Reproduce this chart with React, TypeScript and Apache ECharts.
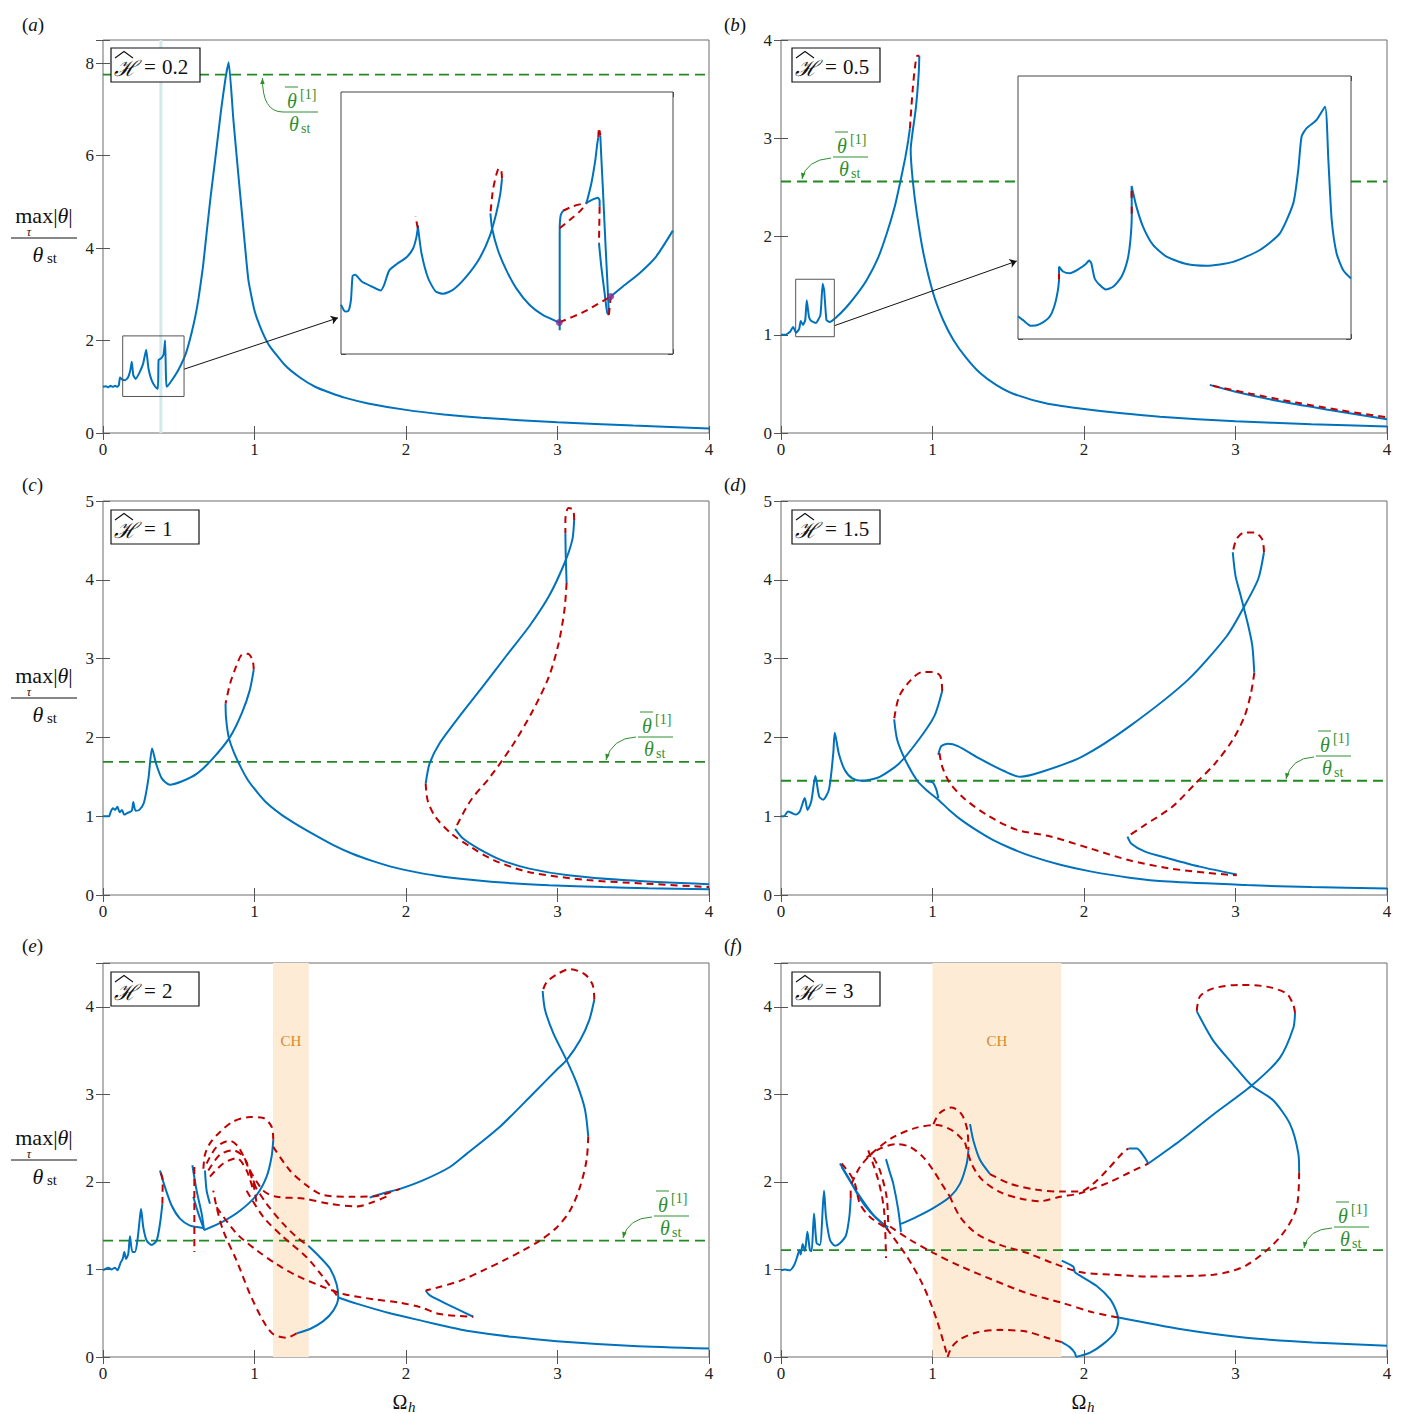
import React, { useEffect, useRef } from 'react';
import * as echarts from 'echarts';

type P = [number, number];

// ---------------- panel meta ----------------
const panelH = ['0.2', '0.5', '1', '1.5', '2', '3'];
const panelLetters = ['a', 'b', 'c', 'd', 'e', 'f'];
const yMaxes = [8.5, 4, 5, 5, 4.5, 4.5];
const ySteps = [2, 1, 1, 1, 1, 1];
const xMax = 4;
const greenLevels = [7.75, 2.56, 1.69, 1.45, 1.33, 1.22];

// ---------------- panel (a) ----------------
const aMain: P[] = [[0,1.0],[0.02,1.01],[0.035,0.99],[0.05,1.02],[0.065,1.0],[0.08,1.02],[0.095,1.0],[0.105,1.04],[0.112,1.2],[0.125,1.16],[0.145,1.14],[0.165,1.2],[0.18,1.35],[0.19,1.54],[0.2,1.25],[0.215,1.17],[0.24,1.3],[0.265,1.5],[0.285,1.8],[0.3,1.4],[0.32,1.15],[0.345,1.0],[0.362,0.95],[0.365,1.3],[0.367,1.58],[0.385,1.62],[0.4,1.7],[0.41,2.0],[0.415,1.3],[0.42,1.0],[0.45,1.12],[0.5,1.38],[0.55,1.75],[0.6,2.38],[0.63,2.9],[0.66,3.6],[0.684,4.33],[0.71,5.1],[0.74,5.9],[0.78,7.0],[0.81,7.7],[0.83,8.02],[0.86,6.8],[0.893,5.6],[0.93,4.3],[0.96,3.3],[1.0,2.65],[1.05,2.2],[1.1,1.88],[1.2,1.47],[1.3,1.2],[1.4,1.0],[1.5,0.87],[1.6,0.76],[1.75,0.64],[2.0,0.5],[2.25,0.4],[2.5,0.33],[3.0,0.23],[3.5,0.16],[4.0,0.1]];
const aZoomBox: P[] = [[0.13,0.79],[0.535,0.79],[0.535,2.1],[0.13,2.1],[0.13,0.79]];
const aArrow: P[] = [[0.535,1.38],[1.551,2.49]];
const aBand: P = [0.372, 0.392];

// inset (a)
const aInB1: P[] = [[0.100,0.829],[0.105,0.784],[0.109,0.789],[0.112,0.862],[0.114,1.022],[0.117,1.029],[0.125,0.984],[0.137,0.951],[0.148,0.924],[0.152,0.962],[0.158,1.057],[0.167,1.100],[0.179,1.146],[0.187,1.206],[0.191,1.284],[0.1925,1.34]];
const aInR1: P[] = [[0.1925,1.34],[0.1898,1.42]];
const aInB1b: P[] = [[0.1925,1.36],[0.197,1.173],[0.205,1.006],[0.214,0.918],[0.223,0.902],[0.235,0.929],[0.251,1.017],[0.267,1.140],[0.279,1.284],[0.287,1.439],[0.292,1.573],[0.294,1.673]];
const aInR2: P[] = [[0.294,1.673],[0.293,1.728],[0.290,1.739],[0.287,1.695],[0.283,1.595],[0.280,1.439]];
const aInB2: P[] = [[0.280,1.439],[0.282,1.340],[0.289,1.195],[0.299,1.062],[0.311,0.940],[0.327,0.829],[0.343,0.762],[0.363,0.711]];
const aInB3: P[] = [[0.3635,0.658],[0.3635,0.995],[0.3635,1.328],[0.3647,1.428],[0.3675,1.457]];
const aInR3: P[] = [[0.3675,1.457],[0.380,1.488],[0.3955,1.510]];
const aInB4: P[] = [[0.3955,1.510],[0.4035,1.533],[0.4096,1.544],[0.4116,1.524],[0.4116,1.484]];
const aInR4: P[] = [[0.4116,1.484],[0.4108,1.240]];
const aInB5: P[] = [[0.4108,1.240],[0.4136,1.084],[0.4176,0.906],[0.4208,0.773],[0.4228,0.760]];
const aInR5: P[] = [[0.3635,1.340],[0.3755,1.395],[0.3875,1.451],[0.3955,1.502]];
const aInB6: P[] = [[0.3955,1.502],[0.4016,1.639],[0.4064,1.795],[0.4088,1.906],[0.410,1.946]];
const aInR6: P[] = [[0.410,1.946],[0.4108,2.010],[0.4124,1.961]];
const aInB7: P[] = [[0.4124,1.961],[0.4136,1.817],[0.4156,1.595],[0.4184,1.262],[0.4208,0.995],[0.4228,0.762]];
const aInR7: P[] = [[0.4228,0.762],[0.4249,0.884]];
const aInR8: P[] = [[0.363,0.711],[0.3935,0.784],[0.4249,0.884]];
const aInB8: P[] = [[0.4249,0.884],[0.4396,0.951],[0.4597,1.040],[0.4797,1.151],[0.4998,1.324]];
const aInDots: P[] = [[0.363,0.711],[0.4249,0.884]];
const aInQP: P = [0.366, 0.398];

// ---------------- panel (b) ----------------
const bRise: P[] = [[0,1.0],[0.03,1.0],[0.06,1.03],[0.08,1.08],[0.1,1.02],[0.12,1.06],[0.13,1.14],[0.145,1.1],[0.16,1.15],[0.17,1.35],[0.185,1.18],[0.2,1.14],[0.23,1.12],[0.26,1.2],[0.275,1.52],[0.285,1.45],[0.3,1.15],[0.32,1.13],[0.36,1.17],[0.434,1.285],[0.5,1.41],[0.566,1.557],[0.64,1.78],[0.698,2.03],[0.75,2.3],[0.785,2.54],[0.82,2.8],[0.84,2.98],[0.851,3.10]];
const bTopRed: P[] = [[0.851,3.10],[0.869,3.49],[0.885,3.73],[0.90,3.84],[0.913,3.84]];
const bFall: P[] = [[0.913,3.84],[0.909,3.66],[0.891,3.32],[0.865,3.02],[0.856,2.88],[0.869,2.58],[0.896,2.24],[0.94,1.83],[1.005,1.42],[1.07,1.15],[1.137,0.95],[1.22,0.77],[1.314,0.61],[1.42,0.49],[1.533,0.40],[1.754,0.30],[1.974,0.25],[2.25,0.2],[2.5,0.165],[3.0,0.12],[3.5,0.09],[4.0,0.065]];
const bRightBlue: P[] = [[2.83,0.49],[3.0,0.42],[3.3,0.32],[3.6,0.24],[4.0,0.14]];
const bRightRed: P[] = [[2.85,0.48],[3.1,0.40],[3.4,0.31],[3.7,0.23],[4.0,0.16]];
const bZoomBox: P[] = [[0.097,0.98],[0.352,0.98],[0.352,1.565],[0.097,1.565],[0.097,0.98]];
const bArrow: P[] = [[0.352,1.092],[1.556,1.75]];
const bGreenGap: P = [1.564, 3.762];

// inset (b)
const bInB1: P[] = [[0.100,1.002],[0.1038,0.993],[0.110,0.980],[0.1163,0.984],[0.1238,1.001],[0.1276,1.028],[0.130,1.062],[0.1308,1.085]];
const bInR1: P[] = [[0.1308,1.085],[0.1308,1.100]];
const bInB2: P[] = [[0.1308,1.100],[0.1308,1.115],[0.1338,1.104],[0.1388,1.100],[0.1463,1.111],[0.1509,1.121],[0.1534,1.129],[0.155,1.123],[0.1576,1.088],[0.1614,1.073],[0.1659,1.063],[0.1714,1.069],[0.1777,1.092],[0.1822,1.130],[0.1844,1.176],[0.1854,1.233],[0.1853,1.299],[0.1889,1.252],[0.1939,1.206],[0.2015,1.164],[0.2115,1.138],[0.2265,1.121],[0.2415,1.117],[0.2616,1.126],[0.2816,1.153],[0.2966,1.191],[0.3067,1.260],[0.3104,1.336],[0.3129,1.412],[0.3167,1.431],[0.3242,1.450],[0.3305,1.480],[0.3330,1.358],[0.3355,1.222],[0.3392,1.145],[0.3442,1.107],[0.350,1.088]];
const bInR2: P[] = [[0.1854,1.236],[0.1854,1.252]];
const bInR3: P[] = [[0.1853,1.272],[0.1853,1.288]];

// ---------------- panel (c) ----------------
const cB1: P[] = [[0,1.0],[0.04,1.0],[0.05,1.05],[0.065,1.1],[0.08,1.08],[0.095,1.12],[0.11,1.05],[0.125,1.08],[0.14,1.02],[0.16,1.04],[0.19,1.07],[0.2,1.18],[0.215,1.07],[0.24,1.08],[0.27,1.17],[0.3,1.48],[0.324,1.86],[0.35,1.67],[0.388,1.48],[0.44,1.40],[0.518,1.44],[0.62,1.54],[0.724,1.73],[0.84,2.01],[0.917,2.31],[0.969,2.60],[0.995,2.86]];
const cR1: P[] = [[0.995,2.86],[0.987,2.98],[0.956,3.06],[0.917,3.05],[0.879,2.90],[0.84,2.69],[0.809,2.43]];
const cB2: P[] = [[0.809,2.43],[0.812,2.25],[0.83,2.0],[0.866,1.80],[0.91,1.62],[0.956,1.46],[1.02,1.30],[1.085,1.16],[1.17,1.03],[1.266,0.91],[1.4,0.76],[1.524,0.63],[1.65,0.52],[1.782,0.43],[1.9,0.36],[2.04,0.30],[2.2,0.245],[2.427,0.195],[2.7,0.15],[2.943,0.125],[3.3,0.1],[3.6,0.085],[4.0,0.072]];
const cB3: P[] = [[2.13,1.415],[2.156,1.67],[2.22,1.92],[2.35,2.26],[2.505,2.64],[2.66,3.03],[2.814,3.41],[2.943,3.79],[3.046,4.21],[3.098,4.51],[3.11,4.76]];
const cR2: P[] = [[3.11,4.76],[3.103,4.89],[3.072,4.91],[3.052,4.76],[3.052,4.59]];
const cB4: P[] = [[3.052,4.59],[3.054,4.34],[3.06,3.96]];
const cR3: P[] = [[3.06,3.96],[3.046,3.62],[3.007,3.19],[2.943,2.77],[2.84,2.35],[2.71,1.92],[2.556,1.50],[2.427,1.20],[2.324,0.84]];
const cB5: P[] = [[2.324,0.84],[2.375,0.72],[2.478,0.59],[2.634,0.44],[2.814,0.335],[3.072,0.25],[3.459,0.186],[4.0,0.136]];
const cR4: P[] = [[2.13,1.415],[2.143,1.20],[2.195,0.99],[2.298,0.78],[2.427,0.61],[2.582,0.44],[2.814,0.29],[3.201,0.19],[3.588,0.144],[4.0,0.10]];

// ---------------- panel (d) ----------------
const dB1: P[] = [[0,1.0],[0.02,1.0],[0.046,1.06],[0.072,1.04],[0.098,1.02],[0.124,1.06],[0.157,1.23],[0.175,1.08],[0.2,1.19],[0.227,1.51],[0.252,1.25],[0.278,1.21],[0.317,1.34],[0.345,1.8],[0.355,2.06],[0.381,1.80],[0.42,1.59],[0.471,1.48],[0.536,1.45],[0.652,1.50],[0.78,1.67],[0.909,1.97],[1.012,2.27],[1.064,2.59]];
const dR1: P[] = [[1.064,2.59],[1.051,2.78],[1.0,2.83],[0.935,2.83],[0.858,2.73],[0.78,2.52],[0.747,2.23]];
const dB2: P[] = [[0.747,2.23],[0.767,1.97],[0.819,1.72],[0.896,1.46],[0.961,1.33],[1.038,1.21],[1.11,1.08],[1.192,0.95],[1.3,0.81],[1.398,0.70],[1.52,0.59],[1.656,0.49],[1.85,0.38],[2.042,0.30],[2.3,0.22],[2.557,0.17],[3.072,0.126],[3.5,0.1],[4.0,0.084]];
const dB3: P[] = [[0.961,1.44],[1.0,1.43],[1.025,1.34],[1.038,1.23]];
const dB4: P[] = [[1.038,1.78],[1.058,1.89],[1.102,1.92],[1.167,1.89],[1.321,1.72],[1.476,1.57],[1.579,1.50],[1.733,1.57],[1.991,1.76],[2.3,2.14],[2.686,2.73],[2.944,3.29],[3.06,3.67],[3.15,4.01],[3.188,4.35]];
const dR2: P[] = [[3.188,4.35],[3.175,4.52],[3.124,4.60],[3.06,4.60],[3.008,4.52],[2.982,4.35]];
const dB5: P[] = [[2.982,4.35],[3.0,4.05],[3.034,3.80],[3.085,3.41],[3.111,3.16],[3.124,2.82]];
const dR3: P[] = [[3.124,2.82],[3.103,2.57],[3.06,2.27],[2.982,1.97],[2.866,1.67],[2.738,1.42],[2.583,1.12],[2.403,0.89],[2.287,0.74]];
const dB6: P[] = [[2.287,0.74],[2.313,0.65],[2.403,0.55],[2.557,0.465],[2.763,0.36],[3.008,0.26]];
const dR4: P[] = [[1.046,1.80],[1.064,1.63],[1.115,1.42],[1.218,1.21],[1.373,1.0],[1.553,0.83],[1.785,0.74],[2.042,0.59],[2.3,0.44],[2.557,0.34],[2.815,0.28],[3.008,0.25]];

// ---------------- panel (e) ----------------
const eB1: P[] = [[0,0.99],[0.035,1.02],[0.057,1.0],[0.079,1.02],[0.095,0.99],[0.117,1.08],[0.13,1.12],[0.141,1.20],[0.152,1.12],[0.167,1.18],[0.178,1.38],[0.194,1.20],[0.211,1.20],[0.227,1.33],[0.244,1.60],[0.251,1.69],[0.266,1.48],[0.288,1.33],[0.321,1.28],[0.354,1.33],[0.376,1.52],[0.392,1.75]];
const eR1: P[] = [[0.392,1.75],[0.394,2.02],[0.376,2.13]];
const eB2: P[] = [[0.376,2.13],[0.409,1.94],[0.453,1.73],[0.508,1.58],[0.574,1.50],[0.64,1.48],[0.667,1.47]];
const eB3: P[] = [[0.667,1.45],[0.794,1.55],[0.904,1.67],[1.014,1.85],[1.08,2.06],[1.113,2.29],[1.124,2.48]];
const eR2: P[] = [[1.124,2.48],[1.113,2.63],[1.058,2.73],[0.97,2.74],[0.86,2.69],[0.772,2.57],[0.706,2.44],[0.673,2.31],[0.662,2.13]];
const eB4: P[] = [[0.59,2.19],[0.618,1.90],[0.651,1.64],[0.667,1.45]];
const eB5: P[] = [[0.596,1.83],[0.629,1.64],[0.662,1.48]];
const eB6: P[] = [[0.673,2.13],[0.684,1.90],[0.706,1.75]];
const eR3: P[] = [[0.603,2.17],[0.603,1.20]];
const eR4: P[] = [[0.684,2.21],[0.75,2.40],[0.838,2.47],[0.893,2.40],[0.948,2.21],[0.992,1.98],[1.014,1.75]];
const eR5: P[] = [[0.695,2.13],[0.772,2.31],[0.86,2.36],[0.926,2.29],[0.97,2.13],[1.014,1.90]];
const eR6: P[] = [[0.706,2.06],[0.794,2.21],[0.882,2.27],[0.948,2.13],[0.992,1.90]];
const eR7: P[] = [[1.124,2.40],[1.234,2.13],[1.344,1.96],[1.454,1.85],[1.63,1.83],[1.806,1.84],[1.96,1.92]];
const eR8: P[] = [[0.97,2.13],[1.058,1.90],[1.146,1.83],[1.322,1.81],[1.498,1.75],[1.674,1.72],[1.784,1.77],[1.894,1.85]];
const eB7: P[] = [[1.76,1.82],[1.85,1.87],[1.96,1.92],[2.115,2.02],[2.29,2.17],[2.40,2.32],[2.62,2.63],[2.84,3.01],[2.995,3.28],[3.06,3.39],[3.15,3.62],[3.21,3.85],[3.243,4.08]];
const eR9: P[] = [[3.243,4.08],[3.232,4.25],[3.181,4.37],[3.083,4.43],[2.995,4.37],[2.928,4.28],[2.902,4.18]];
const eB8: P[] = [[2.902,4.18],[2.917,3.97],[2.972,3.70],[3.06,3.39],[3.126,3.13],[3.181,2.83],[3.203,2.52]];
const eR10: P[] = [[3.203,2.52],[3.192,2.25],[3.148,1.94],[3.082,1.67],[2.995,1.48],[2.884,1.33],[2.774,1.22],[2.642,1.10],[2.51,0.99],[2.356,0.87],[2.202,0.79],[2.13,0.76]];
const eB9: P[] = [[2.13,0.76],[2.16,0.70],[2.312,0.57],[2.444,0.46]];
const eR11: P[] = [[0.75,1.71],[0.882,1.41],[1.014,1.22],[1.146,1.06],[1.278,0.93],[1.454,0.80],[1.586,0.72],[1.784,0.66],[1.96,0.62],[2.093,0.57],[2.224,0.49],[2.444,0.46]];
const eR12: P[] = [[0.992,1.98],[1.08,1.75],[1.19,1.52],[1.278,1.37],[1.355,1.27]];
const eB10: P[] = [[1.355,1.27],[1.432,1.14],[1.498,1.01],[1.542,0.83],[1.553,0.68],[1.52,0.53],[1.454,0.41],[1.366,0.32],[1.278,0.27]];
const eR13: P[] = [[1.278,0.27],[1.212,0.22],[1.124,0.26],[1.058,0.41],[0.97,0.72],[0.882,1.10],[0.794,1.44],[0.75,1.71],[0.728,1.90]];
const eR14: P[] = [[0.948,1.90],[1.058,1.60],[1.19,1.37],[1.344,1.14],[1.454,0.91],[1.553,0.68]];
const eB11: P[] = [[1.553,0.68],[1.674,0.61],[1.894,0.50],[2.114,0.41],[2.29,0.34],[2.4,0.30],[2.7,0.23],[2.995,0.18],[3.5,0.126],[4.0,0.096]];
const eCH: P = [1.122, 1.358];

// ---------------- panel (f) ----------------
const fB1: P[] = [[0,0.99],[0.026,1.0],[0.06,0.99],[0.077,1.02],[0.092,1.07],[0.108,1.15],[0.121,1.22],[0.13,1.17],[0.143,1.29],[0.158,1.21],[0.174,1.43],[0.191,1.22],[0.202,1.21],[0.218,1.64],[0.235,1.30],[0.257,1.28],[0.284,1.90],[0.297,1.60],[0.323,1.34],[0.356,1.27],[0.389,1.30],[0.429,1.39],[0.451,1.60],[0.46,1.81]];
const fR1: P[] = [[0.46,1.81],[0.46,1.90]];
const fB2: P[] = [[0.389,2.21],[0.455,2.02],[0.521,1.81],[0.587,1.66],[0.653,1.55],[0.708,1.45]];
const fB3: P[] = [[0.40,2.17],[0.51,1.86],[0.62,1.60],[0.708,1.48]];
const fR2: P[] = [[0.40,2.21],[0.455,2.09],[0.488,1.98],[0.521,1.75],[0.587,1.60],[0.697,1.47]];
const fR3: P[] = [[0.466,1.98],[0.521,2.17],[0.61,2.34],[0.741,2.51],[0.895,2.62],[1.028,2.65],[1.138,2.58],[1.215,2.45]];
const fR4: P[] = [[1.006,2.66],[1.05,2.79],[1.127,2.85],[1.193,2.77],[1.23,2.59],[1.237,2.36]];
const fR5: P[] = [[0.566,2.28],[0.653,2.38],[0.763,2.43],[0.851,2.40],[0.94,2.28],[1.006,2.13],[1.06,1.98],[1.116,1.83]];
const fR6: P[] = [[0.576,2.36],[0.642,2.02],[0.68,1.68],[0.693,1.13]];
const fR7: P[] = [[0.61,2.28],[0.653,2.13],[0.697,1.83],[0.708,1.49]];
const fB4: P[] = [[0.693,2.26],[0.72,2.10],[0.741,1.98],[0.774,1.68],[0.792,1.43]];
const fB5: P[] = [[0.792,1.52],[0.895,1.60],[1.005,1.70],[1.116,1.83],[1.182,1.98],[1.226,2.21],[1.237,2.36]];
const fB6: P[] = [[1.248,2.66],[1.27,2.47],[1.314,2.25],[1.38,2.09]];
const fR8: P[] = [[1.38,2.09],[1.51,1.98],[1.69,1.91],[1.842,1.89],[1.974,1.89],[2.062,1.98],[2.15,2.13],[2.26,2.34],[2.293,2.38]];
const fR9: P[] = [[1.215,2.45],[1.26,2.2],[1.33,2.02],[1.45,1.88],[1.578,1.81],[1.71,1.78],[1.842,1.83],[1.974,1.87],[2.172,2.0],[2.304,2.11],[2.425,2.21]];
const fB7: P[] = [[2.293,2.38],[2.348,2.38],[2.392,2.30],[2.425,2.21]];
const fB8: P[] = [[2.425,2.21],[2.634,2.47],[2.854,2.77],[3.107,3.10],[3.294,3.42],[3.382,3.76],[3.393,3.93]];
const fR10: P[] = [[3.393,3.93],[3.382,4.02],[3.338,4.15],[3.206,4.23],[3.03,4.25],[2.854,4.21],[2.766,4.12],[2.744,3.95]];
const fB9: P[] = [[2.744,3.95],[2.854,3.61],[2.985,3.34],[3.107,3.10],[3.25,2.93],[3.36,2.66],[3.415,2.32],[3.42,2.11]];
const fR11: P[] = [[3.42,2.11],[3.404,1.71],[3.294,1.37],[3.074,1.05],[2.854,0.94],[2.414,0.92],[2.194,0.94],[1.974,0.97],[1.798,1.07],[1.622,1.19],[1.446,1.28],[1.29,1.41],[1.182,1.60],[1.116,1.83]];
const fB10: P[] = [[1.853,1.10],[1.93,1.03],[1.94,0.97],[1.974,0.93],[2.084,0.81],[2.172,0.66],[2.216,0.51],[2.227,0.41],[2.205,0.28],[2.128,0.15],[2.04,0.05],[1.947,0.0]];
const fB11: P[] = [[1.947,0.0],[1.94,0.045],[1.908,0.11],[1.853,0.17]];
const fR12: P[] = [[1.853,0.17],[1.754,0.22],[1.62,0.29],[1.445,0.31],[1.29,0.28],[1.18,0.2],[1.126,0.11],[1.10,0.0]];
const fR13: P[] = [[0.697,1.47],[0.83,1.15],[0.94,0.81],[1.027,0.43],[1.10,0.0]];
const fR14: P[] = [[0.72,1.49],[0.851,1.34],[1.005,1.19],[1.18,1.04],[1.40,0.88],[1.622,0.73],[1.853,0.62],[2.06,0.51],[2.227,0.45]];
const fB12: P[] = [[2.227,0.45],[2.633,0.32],[3.07,0.22],[3.51,0.166],[4.0,0.128]];
const fCH: P = [1.0, 1.85];

// ---------------- styling ----------------
const BLUE = '#0072BD';
const RED = '#C00000';
const GREEN = '#1f8a1f';
const GREEN_TXT = '#2f8f2f';
const FONT = 'Liberation Serif';

const GRID = [
  { left: 103, top: 40, width: 606, height: 393 },
  { left: 781, top: 40, width: 606, height: 393 },
  { left: 103, top: 501, width: 606, height: 394 },
  { left: 781, top: 501, width: 606, height: 394 },
  { left: 103, top: 963, width: 606, height: 394 },
  { left: 781, top: 963, width: 606, height: 394 },
  { left: 341, top: 92, width: 332, height: 262 },
  { left: 1018, top: 76, width: 333, height: 263 },
];

function buildOption(): any {
  const grids = GRID.map((g, i) => ({
    ...g,
    show: true,
    borderColor: i >= 6 ? '#444' : '#6c6c6c',
    borderWidth: 1,
    backgroundColor: i >= 6 ? '#ffffff' : 'transparent',
    z: i >= 6 ? 3 : 0,
  }));

  const xAxes: any[] = [];
  const yAxes: any[] = [];
  const fmt = (step: number) => (v: number) => {
    const r = v / step;
    return Math.abs(r - Math.round(r)) < 1e-6 ? `{t|${Math.round(v * 1000) / 1000}}` : '';
  };
  const tickRich = { t: { fontSize: 17, fontFamily: FONT, color: '#222' } };
  const addAxes = (g: number, xr: number[], yr: number[], labels: boolean, tl: number) => {
    const tick = { show: true, inside: true, length: tl, lineStyle: { color: '#555', width: 1 } };
    const lab = { show: labels, color: '#222', fontFamily: FONT, fontSize: 17, margin: 8, rich: tickRich };
    const baseX = { type: 'value', gridIndex: g, min: xr[0], max: xr[1], interval: xr[2], axisLine: { show: false }, splitLine: { show: false }, axisTick: tick };
    xAxes.push({ ...baseX, position: 'bottom', axisLabel: { ...lab, showMinLabel: true, showMaxLabel: true, formatter: fmt(xr[2]) } });
    xAxes.push({ ...baseX, position: 'top', axisLabel: { show: false } });
    const baseY = { type: 'value', gridIndex: g, min: yr[0], max: yr[1], interval: yr[2], axisLine: { show: false }, splitLine: { show: false }, axisTick: tick };
    yAxes.push({ ...baseY, position: 'left', axisLabel: { ...lab, margin: 9, formatter: fmt(yr[2]) } });
    yAxes.push({ ...baseY, position: 'right', axisLabel: { show: false } });
  };
  for (let p = 0; p < 6; p++) addAxes(p, [0, xMax, 1], [0, yMaxes[p], ySteps[p]], true, 7);
  addAxes(6, [0.1, 0.5, 0.1], [0.5, 2.25, 0.5], false, 5);
  addAxes(7, [0.1, 0.35, 0.05], [0.95, 1.55, 0.1], false, 5);

  const series: any[] = [];
  const ln = (g: number, data: P[], k: 'b' | 'r' | 'rs', smooth = 0.25) => {
    series.push({
      type: 'line', xAxisIndex: 2 * g, yAxisIndex: 2 * g, data, showSymbol: false, symbol: 'none',
      smooth, silent: true, clip: true, z: k === 'b' ? 3 : 4,
      lineStyle: k === 'b' ? { color: BLUE, width: 2 } : k === 'r' ? { color: RED, width: 2, type: [7, 5] } : { color: RED, width: 2 },
    });
  };
  const green = (g: number, y: number, x0 = 0, x1 = xMax) => {
    series.push({
      type: 'line', xAxisIndex: 2 * g, yAxisIndex: 2 * g, data: [[x0, y], [x1, y]], showSymbol: false, symbol: 'none', silent: true, z: 2,
      lineStyle: { color: GREEN, width: 1.8, type: [10, 6] },
    });
  };
  const band = (g: number, r: P, color: string, label?: { text: string; color: string; dist: number }) => {
    series.push({
      type: 'line', xAxisIndex: 2 * g, yAxisIndex: 2 * g, data: [], symbol: 'none', silent: true, z: 1,
      lineStyle: { opacity: 0 },
      markArea: {
        silent: true, itemStyle: { color },
        label: label ? { show: true, position: 'insideTop', distance: label.dist, formatter: label.text, color: label.color, fontFamily: FONT, fontSize: 15 } : { show: false },
        data: [[{ xAxis: r[0] }, { xAxis: r[1] }]],
      },
    });
  };
  const box = (g: number, data: P[], arrow: P[]) => {
    series.push({
      type: 'line', xAxisIndex: 2 * g, yAxisIndex: 2 * g, data, showSymbol: false, symbol: 'none', silent: true, z: 5,
      lineStyle: { color: '#555', width: 1 },
      markLine: {
        silent: true, symbol: ['none', 'arrow'], symbolSize: 7, label: { show: false },
        lineStyle: { color: '#111', width: 1, type: 'solid' },
        data: [[{ coord: arrow[0] }, { coord: arrow[1] }]],
      },
    });
  };

  // (a)
  band(0, aBand, '#d3e9ea');
  green(0, greenLevels[0]);
  ln(0, aMain, 'b', 0.15);
  box(0, aZoomBox, aArrow);
  band(6, aInQP, '#d3e9ea', { text: 'QP', color: '#3b98a3', dist: 10 });
  [aInB1, aInB1b, aInB2, aInB3, aInB4, aInB5, aInB6, aInB7, aInB8].forEach((d) => ln(6, d, 'b', 0.2));
  [aInR2, aInR3, aInR5, aInR6, aInR8].forEach((d) => ln(6, d, 'r', 0.2));
  [aInR1, aInR4, aInR7].forEach((d) => ln(6, d, 'r', 0));
  series.push({
    type: 'scatter', xAxisIndex: 12, yAxisIndex: 12, data: aInDots, symbolSize: 7, silent: true, z: 6,
    itemStyle: { color: '#7E2F8E' },
  });

  // (b)
  green(1, greenLevels[1], 0, bGreenGap[0]);
  green(1, greenLevels[1], bGreenGap[1], xMax);
  ln(1, bRise, 'b', 0.15);
  ln(1, bTopRed, 'r', 0.3);
  ln(1, bFall, 'b', 0.25);
  ln(1, bRightBlue, 'b', 0.3);
  ln(1, bRightRed, 'r', 0.3);
  box(1, bZoomBox, bArrow);
  ln(7, bInB1, 'b', 0.25);
  ln(7, bInB2, 'b', 0.2);
  [bInR1, bInR2, bInR3].forEach((d) => ln(7, d, 'rs', 0));

  // (c)
  green(2, greenLevels[2]);
  [cB1, cB2, cB3, cB4, cB5].forEach((d) => ln(2, d, 'b', 0.25));
  [cR1, cR2, cR3, cR4].forEach((d) => ln(2, d, 'r', 0.3));

  // (d)
  green(3, greenLevels[3]);
  [dB1, dB2, dB3, dB4, dB5, dB6].forEach((d) => ln(3, d, 'b', 0.25));
  [dR1, dR2, dR3, dR4].forEach((d) => ln(3, d, 'r', 0.3));

  // (e)
  band(4, eCH, '#fdebd5', { text: 'CH', color: '#d9892b', dist: 70 });
  green(4, greenLevels[4]);
  [eB1, eB2, eB3, eB4, eB5, eB6, eB7, eB8, eB9, eB10, eB11].forEach((d) => ln(4, d, 'b', 0.25));
  [eR1, eR2, eR3, eR4, eR5, eR6, eR7, eR8, eR9, eR10, eR11, eR12, eR13, eR14].forEach((d) => ln(4, d, 'r', 0.3));

  // (f)
  band(5, fCH, '#fdebd5', { text: 'CH', color: '#d9892b', dist: 70 });
  green(5, greenLevels[5]);
  [fB1, fB2, fB3, fB4, fB5, fB6, fB7, fB8, fB9, fB10, fB11, fB12].forEach((d) => ln(5, d, 'b', 0.25));
  [fR2, fR3, fR4, fR5, fR6, fR7, fR8, fR9, fR10, fR11, fR12, fR13, fR14].forEach((d) => ln(5, d, 'r', 0.3));
  ln(5, fR1, 'rs', 0);

  // ---------------- graphic annotations ----------------
  const gfx: any[] = [];
  const txt = (x: number, y: number, text: string, font: string, fill = '#111', align = 'center', valign = 'middle', rich?: any) => {
    gfx.push({ type: 'text', x, y, silent: true, z: 50, style: { text, font, fill, textAlign: align, textVerticalAlign: valign, rich } });
  };
  const seg = (x1: number, y1: number, x2: number, y2: number, stroke: string, w = 1) => {
    gfx.push({ type: 'line', silent: true, z: 50, shape: { x1, y1, x2, y2 }, style: { stroke, lineWidth: w } });
  };

  const annos = [
    [300, 112, 283, 112, 262, 112, 262.5, 78],
    [850, 157, 831, 158, 806, 160, 802, 179],
    [655, 737, 636, 737, 612, 738, 606, 760],
    [1333, 756, 1314, 757, 1291, 758, 1286, 779],
    [671, 1216, 652, 1217, 628, 1218, 623, 1238],
    [1351, 1227, 1332, 1228, 1308, 1229, 1304, 1248],
  ];
  annos.forEach(([cx, ly, sx, sy, qx, qy, ex, ey]) => {
    txt(cx - 8, ly - 11, 'θ', `italic 20px ${FONT}`, GREEN_TXT);
    seg(cx - 15, ly - 25, cx - 2, ly - 25, GREEN_TXT, 1);
    txt(cx, ly - 18, '[1]', `14px ${FONT}`, GREEN_TXT, 'left');
    seg(cx - 17, ly, cx + 18, ly, GREEN_TXT, 1);
    txt(cx - 6, ly + 12, 'θ', `italic 20px ${FONT}`, GREEN_TXT);
    txt(cx + 1, ly + 16, 'st', `14px ${FONT}`, GREEN_TXT, 'left');
    gfx.push({ type: 'bezierCurve', silent: true, z: 50, shape: { x1: sx, y1: sy, x2: ex, y2: ey, cpx1: qx, cpy1: qy }, style: { stroke: GREEN_TXT, lineWidth: 1, fill: null } });
    const dx = ex - qx, dy = ey - qy, L = Math.hypot(dx, dy) || 1;
    const ux = dx / L, uy = dy / L, bx = ex - ux * 6, by = ey - uy * 6;
    gfx.push({ type: 'polygon', silent: true, z: 50, shape: { points: [[ex, ey], [bx - uy * 2.3, by + ux * 2.3], [bx + uy * 2.3, by - ux * 2.3]] }, style: { fill: GREEN_TXT } });
  });

  // y-axis fraction labels
  [238, 698, 1160].forEach((ly) => {
    const cx = 44;
    txt(cx, ly - 23, '{r|max}{r||}{i|θ}{r||}', `22px ${FONT}`, '#111', 'center', 'middle', {
      r: { fontSize: 22, fontFamily: FONT }, i: { fontSize: 22, fontFamily: FONT, fontStyle: 'italic' },
    });
    txt(cx - 15, ly - 6, 'τ', `italic 12px ${FONT}`, '#111');
    seg(cx - 33, ly, cx + 33, ly, '#111', 1);
    txt(cx - 6, ly + 16, 'θ', `italic 22px ${FONT}`, '#111');
    txt(cx + 3, ly + 20, 'st', `15px ${FONT}`, '#111', 'left');
  });

  // x labels
  [[400, 1402], [1079, 1402]].forEach(([x, y]) => {
    txt(x, y, 'Ω', `20px ${FONT}`, '#111');
    txt(x + 8, y + 5, 'h', `italic 15px ${FONT}`, '#111', 'left');
  });

  // panel letters
  const letterPos = [[22, 24], [724, 24], [22, 484], [724, 484], [22, 945], [724, 945]];
  letterPos.forEach(([x, y], i) => {
    txt(x, y, `{r|(}{i|${panelLetters[i]}}{r|)}`, `19px ${FONT}`, '#111', 'left', 'middle', {
      r: { fontSize: 19, fontFamily: FONT }, i: { fontSize: 19, fontFamily: FONT, fontStyle: 'italic' },
    });
  });

  // H-hat boxes
  const boxPos = [[111, 48, 89], [792, 48, 88], [111, 510, 88], [792, 510, 88], [111, 972, 88], [792, 972, 88]];
  boxPos.forEach(([x, y, w], i) => {
    gfx.push({ type: 'rect', silent: true, z: 49, shape: { x, y, width: w, height: 34 }, style: { fill: '#fff', stroke: '#111', lineWidth: 1.2 } });
    txt(x + 14, y + 20, 'ℋ', `italic 22px DejaVu Serif`, '#111');
    gfx.push({ type: 'polyline', silent: true, z: 50, shape: { points: [[x + 4, y + 10], [x + 13, y + 3.5], [x + 22, y + 10]] }, style: { stroke: '#111', lineWidth: 1.1, fill: null } });
    txt(x + 39, y + 19, '=', `21px ${FONT}`, '#111');
    txt(x + 51, y + 19, panelH[i], `21px ${FONT}`, '#111', 'left');
  });

  return {
    animation: false,
    backgroundColor: '#ffffff',
    grid: grids,
    xAxis: xAxes,
    yAxis: yAxes,
    series,
    graphic: { elements: gfx },
  };
}

export default function App() {
  const ref = useRef<HTMLDivElement>(null);
  useEffect(() => {
    document.body.style.margin = '0';
    const chart = echarts.init(ref.current!, null, { renderer: 'svg' });
    chart.setOption(buildOption());
    return () => chart.dispose();
  }, []);
  return <div ref={ref} style={{ width: 1408, height: 1414 }} />;
}
